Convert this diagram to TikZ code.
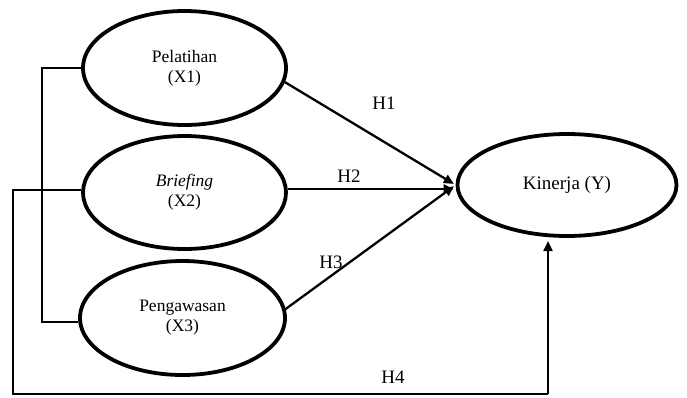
\documentclass[tikz,border=0pt]{standalone}
\usepackage{fontspec}
\setmainfont{Liberation Serif}[ItalicFont=Liberation Serif Italic]
\usetikzlibrary{shapes.geometric,arrows.meta}
\begin{document}
\begin{tikzpicture}[x=1pt,y=-1pt,
  var/.style={draw,ellipse,line width=3.8pt,inner sep=0pt,align=center,
    font=\fontsize{17.5}{20}\selectfont},
  conn/.style={line width=2.3pt},
  arr/.style={conn,-{Triangle[length=10pt,width=9pt]},shorten >=2pt},
  hlab/.style={font=\fontsize{19}{22}\selectfont}]
\useasboundingbox (0,0) rectangle (687,397);
\node[var,minimum width=203pt,minimum height=114pt] (x1) at (184.5,68) {Pelatihan\\(X1)};
\node[var,minimum width=203pt,minimum height=113pt] (x2) at (184.5,192.5) {\textit{Briefing}\\(X2)};
\node[var,minimum width=205pt,minimum height=114pt] (x3) at (182.5,318) {Pengawasan\\(X3)};
\node[var,minimum width=219pt,minimum height=102pt,font=\fontsize{19}{22}\selectfont] (k) at (567,185) {Kinerja (Y)};
\coordinate (c1) at (42,68);
\coordinate (c3) at (42,322);
\coordinate (o1) at (13,190);
\coordinate (o2) at (13,394);
\coordinate (o3) at (548,394);
\coordinate (o4) at (548,241);
\draw[conn] (x1.west) -- (c1) -- (c3) -- (x3.west |- c3);
\draw[conn] (x2.west |- o1) -- (o1) -- (o2) -- (o3);
\draw[arr,shorten >=0pt] (o3) -- (o4);
\draw[arr] (x1.-8) -- (k.west);
\draw[arr] (x2.east |- 0,189) -- (k.west |- 0,189);
\draw[arr] (x3.5) -- (k.west);
\node[hlab] (h1) at (384,103) {H1};
\node[hlab] (h2) at (349,176) {H2};
\node[hlab] (h3) at (331,262) {H3};
\node[hlab] (h4) at (393,377) {H4};
\end{tikzpicture}
\end{document}
